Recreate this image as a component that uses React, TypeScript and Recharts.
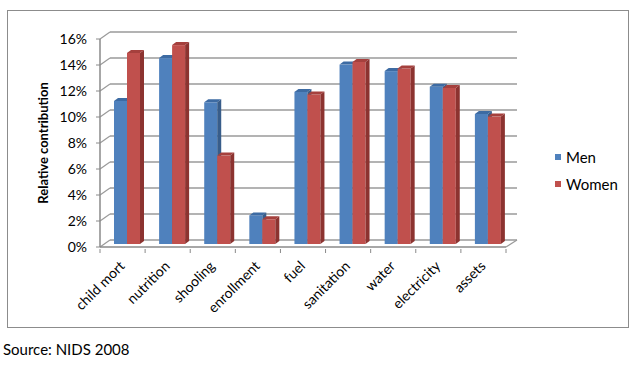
import React from 'react';
import { BarChart, Bar, XAxis, YAxis, CartesianGrid, Legend } from 'recharts';

const categories = ['child mort', 'nutrition', 'shooling', 'enrollment', 'fuel', 'sanitation', 'water', 'electricity', 'assets'];
const men = [11.0, 14.3, 10.9, 2.2, 11.7, 13.8, 13.3, 12.1, 10.0];
const women = [14.7, 15.3, 6.8, 1.9, 11.5, 14.0, 13.5, 12.0, 9.8];
const yTicks = [0, 2, 4, 6, 8, 10, 12, 14, 16];

const data = categories.map((name, i) => ({ name, Men: men[i], Women: women[i] }));

const FONT = 'Lato, "Open Sans", sans-serif';
const DX = 10;
const DY = -7;
const PLOT_W = 406;

// 3d-looking column: front face, top and right side
const Column = (colors: { front: string; top: string; side: string }) => (props: any) => {
  const { x, y, width, height } = props;
  if (!height || height <= 0) return null;
  const fx = x + 4;
  const fy = y - 3;
  const d = 4;
  const dd = 3;
  return (
    <g>
      <rect x={fx} y={fy} width={width} height={height} fill={colors.front} />
      <polygon
        points={`${fx},${fy} ${fx + d},${fy - dd} ${fx + width + d},${fy - dd} ${fx + width},${fy}`}
        fill={colors.top}
      />
      <polygon
        points={`${fx + width},${fy} ${fx + width + d},${fy - dd} ${fx + width + d},${fy + height - dd} ${fx + width},${fy + height}`}
        fill={colors.side}
      />
    </g>
  );
};

const gridLine = (props: any) => {
  const { x1, x2, y1, index } = props;
  return (
    <g key={`g-${index}`}>
      <line x1={x1 + DX} y1={y1 + DY} x2={x2 + DX + 1} y2={y1 + DY} stroke="#9a9a9a" strokeWidth={1.5} />
      <line x1={x1} y1={y1} x2={x1 + DX} y2={y1 + DY} stroke="#9a9a9a" strokeWidth={1.2} />
      {index === 0 && (
        <line x1={x2} y1={y1} x2={x2 + DX + 1} y2={y1 + DY} stroke="#9a9a9a" strokeWidth={1.2} />
      )}
    </g>
  );
};

const XTick = (props: any) => {
  const { x, y, payload, index } = props;
  const half = PLOT_W / categories.length / 2;
  return (
    <g>
      <line x1={x - half} y1={y} x2={x - half} y2={y + 4} stroke="#8a8a8a" />
      {index === categories.length - 1 && (
        <line x1={x + half} y1={y} x2={x + half} y2={y + 4} stroke="#8a8a8a" />
      )}
      <text
        x={x + 3}
        y={y + 18}
        transform={`rotate(-45 ${x + 3} ${y + 18})`}
        textAnchor="end"
        fontSize={14}
        fontFamily={FONT}
        fill="#000"
      >
        {payload.value}
      </text>
    </g>
  );
};

const LegendBox = (props: any) => {
  const { payload } = props;
  return (
    <div style={{ fontFamily: FONT, fontSize: 15, color: '#000' }}>
      {(payload || []).map((p: any) => (
        <div key={p.value} style={{ display: 'flex', alignItems: 'center', height: 27 }}>
          <span style={{ width: 6, height: 6, background: p.color, marginRight: 5, display: 'inline-block' }} />
          {p.value}
        </div>
      ))}
    </div>
  );
};

export default function App() {
  return (
    <div style={{ position: 'absolute', left: 0, top: 0, width: 637, height: 366, background: '#fff' }}>
      <div
        style={{
          position: 'absolute',
          left: 7,
          top: 10,
          width: 622,
          height: 318,
          border: '1px solid #8c8c8c',
          boxSizing: 'border-box',
        }}
      />
      <div style={{ position: 'absolute', left: 0, top: 0 }}>
        <BarChart
          width={637}
          height={366}
          data={data}
          margin={{ top: 39, right: 131, bottom: 59, left: 0 }}
          barGap={0}
          barSize={13}
        >
          <CartesianGrid vertical={false} horizontal={gridLine} />
          <XAxis
            dataKey="name"
            height={60}
            axisLine={{ stroke: '#8a8a8a', strokeWidth: 1.5 }}
            tickLine={false}
            tickSize={0}
            tick={<XTick />}
            interval={0}
          />
          <YAxis
            width={100}
            domain={[0, 16]}
            ticks={yTicks}
            interval={0}
            tickFormatter={(v) => `${v}%`}
            axisLine={{ stroke: '#8a8a8a', strokeWidth: 1.5 }}
            tickLine={{ stroke: '#8a8a8a' }}
            tickSize={4}
            tickMargin={9}
            tick={{ fontSize: 14, fontFamily: FONT, fill: '#000' }}
            label={({ viewBox }: any) => (
              <text
                x={45}
                y={viewBox.y + viewBox.height / 2}
                transform={`rotate(-90 45 ${viewBox.y + viewBox.height / 2})`}
                textAnchor="middle"
                dominantBaseline="middle"
                fontSize={13}
                fontWeight="bold"
                fontFamily={FONT}
                fill="#000"
              >
                Relative contribution
              </text>
            )}
          />
          <Legend
            layout="vertical"
            align="center"
            verticalAlign="middle"
            content={<LegendBox />}
            wrapperStyle={{ position: 'absolute', left: 555, top: 143, width: 80 }}
          />
          <Bar
            dataKey="Men"
            fill="#4F81BD"
            isAnimationActive={false}
            shape={Column({ front: '#4F81BD', top: '#3D6BA3', side: '#385D8A' })}
          />
          <Bar
            dataKey="Women"
            fill="#C0504D"
            isAnimationActive={false}
            shape={Column({ front: '#C0504D', top: '#A5403D', side: '#8C3330' })}
          />
        </BarChart>
      </div>
      <div style={{ position: 'absolute', left: 3, top: 340, fontFamily: FONT, fontSize: 15, color: '#000' }}>
        Source: NIDS 2008
      </div>
    </div>
  );
}
